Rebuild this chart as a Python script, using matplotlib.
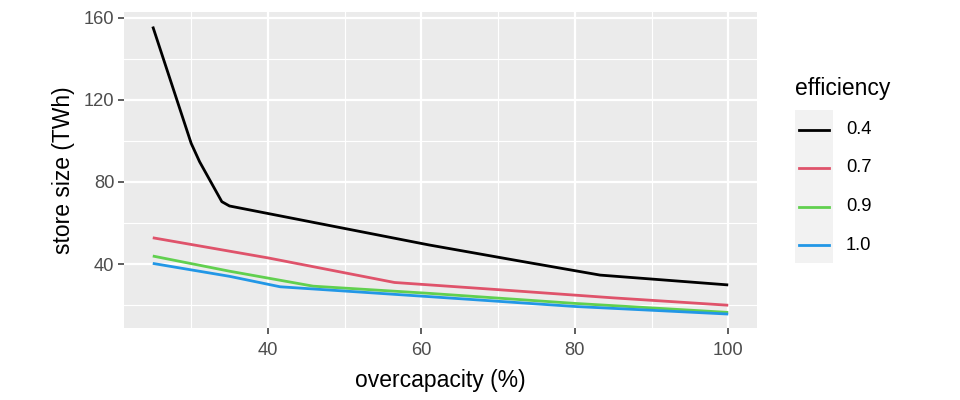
import matplotlib
matplotlib.use("Agg")
import matplotlib.pyplot as plt
from matplotlib.patches import Rectangle
from matplotlib.lines import Line2D

plt.rcParams["font.family"] = ["Liberation Sans", "DejaVu Sans"]

# data
eff_labels = ["0.4", "0.7", "0.9", "1.0"]
colors = ["#000000", "#DF536B", "#61D04F", "#2297E6"]

x_04 = [25.0, 30.0, 31.1, 34.0, 35.0, 61.0, 72.0, 83.3, 100.0]
y_04 = [155.8, 98.9, 89.9, 70.4, 68.3, 49.3, 42.0, 34.6, 29.8]
x_07 = [25.0, 40.0, 56.5, 70.0, 85.0, 100.0]
y_07 = [52.8, 43.0, 31.0, 27.5, 23.5, 19.9]
x_09 = [25.0, 35.0, 45.9, 61.0, 80.0, 100.0]
y_09 = [43.9, 36.5, 29.2, 25.7, 20.8, 16.4]
x_10 = [25.0, 35.0, 41.6, 61.0, 80.0, 100.0]
y_10 = [40.3, 34.0, 28.9, 24.1, 19.3, 15.6]

xs = [x_04, x_07, x_09, x_10]
ys = [y_04, y_07, y_09, y_10]

fig = plt.figure(figsize=(9.6, 4), dpi=100)
ax = fig.add_axes([124/960, 1-328/400, (757-124)/960, (328-12)/400])
ax.set_facecolor("#EBEBEB")

for xx, yy, c, lab in zip(xs, ys, colors, eff_labels):
    ax.plot(xx, yy, color=c, lw=2.0, label=lab, solid_capstyle="butt", zorder=3)

ax.set_xlim(21.25, 103.75)
ax.set_ylim(8.8, 162.9)
ax.set_xticks([40, 60, 80, 100])
ax.set_xticks([30, 50, 70, 90], minor=True)
ax.set_yticks([40, 80, 120, 160])
ax.set_yticks([20, 60, 100, 140], minor=True)

ax.grid(True, which="major", color="white", lw=1.6, zorder=1)
ax.grid(True, which="minor", color="white", lw=0.8, zorder=1)
ax.set_axisbelow(True)
for s in ax.spines.values():
    s.set_visible(False)

ax.tick_params(which="major", length=4, width=1.1, color="#333333",
               labelsize=13.2, labelcolor="#4D4D4D", pad=3)
ax.tick_params(axis="x", which="major", pad=6)
ax.tick_params(which="minor", length=0)

ax.set_xlabel("overcapacity (%)", fontsize=16.5, color="black", labelpad=7)
ax.set_ylabel("store size (TWh)", fontsize=16.5, color="black", labelpad=6)

# legend, drawn like ggplot's
fig.text(795/960, 1-89/400, "efficiency", fontsize=16.5, ha="left", va="center")
fig.patches.append(Rectangle((795/960, 1-263/400), 38/960, 153/400,
                             transform=fig.transFigure, facecolor="#F2F2F2",
                             edgecolor="none"))
key_y = [130, 168, 207, 245]
for ky, c, lab in zip(key_y, colors, eff_labels):
    fig.lines.append(Line2D([799/960, 829/960], [1-ky/400, 1-ky/400],
                            transform=fig.transFigure, color=c, lw=2.0))
    fig.text(846/960, 1-ky/400, lab, fontsize=13.2, ha="left", va="center")

fig.savefig("out.png", dpi=100)
